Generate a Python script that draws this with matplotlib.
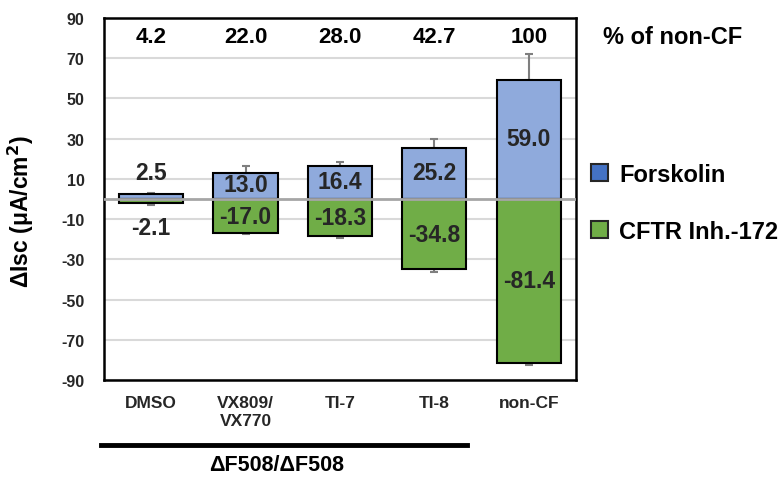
import matplotlib
matplotlib.use("Agg")
import matplotlib.pyplot as plt
from matplotlib.patches import Patch

plt.rcParams["font.family"] = ["Liberation Sans", "DejaVu Sans"]
plt.rcParams["font.weight"] = "bold"
plt.rcParams["mathtext.default"] = "bf"

# data
groups = ["DMSO", "VX809/\nVX770", "TI-7", "TI-8", "non-CF"]
forsk = [2.5, 13.0, 16.4, 25.2, 59.0]
forsk_err = [0.6, 3.5, 2.0, 4.6, 13.0]
inh = [-2.1, -17.0, -18.3, -34.8, -81.4]
inh_err = [0.9, 0.6, 1.2, 1.3, 1.1]
pct = ["4.2", "22.0", "28.0", "42.7", "100"]
yticks = [90, 70, 50, 30, 10, -10, -30, -50, -70, -90]

BLUE = "#8FAADC"; GREEN = "#70AD47"; TXT = "#262626"

fig = plt.figure(figsize=(7.79, 4.85), dpi=100)
ax = fig.add_axes([0.1335, 0.2144, 0.6059, 0.7464])
x = list(range(len(groups)))

for yv in yticks:
    ax.axhline(yv, color="#D9D9D9", lw=1.5, zorder=0)
ax.axhline(0, color="#A6A6A6", lw=2, zorder=3)

ax.errorbar(x, forsk, yerr=[[0]*5, forsk_err], fmt="none", ecolor="#7F7F7F", elinewidth=1.5, capsize=3, capthick=1.5, zorder=1)
ax.errorbar(x, inh, yerr=[inh_err, [0]*5], fmt="none", ecolor="#7F7F7F", elinewidth=1.5, capsize=3, capthick=1.5, zorder=1)
ax.bar(x, forsk, width=0.68, color=BLUE, edgecolor="black", lw=1.5, zorder=2)
ax.bar(x, inh, width=0.68, color=GREEN, edgecolor="black", lw=1.5, zorder=2)

for i in x:
    if i == 0:
        ax.text(i, forsk[i] + 10.5, f"{forsk[i]:.1f}", ha="center", va="center", fontsize=16.5, color=TXT)
        ax.text(i, inh[i] - 12, f"{inh[i]:.1f}", ha="center", va="center", fontsize=16.5, color=TXT)
    else:
        ax.text(i, forsk[i] / 2 + 0.5, f"{forsk[i]:.1f}", ha="center", va="center", fontsize=16.5, color=TXT, zorder=4)
        ax.text(i, inh[i] / 2, f"{inh[i]:.1f}", ha="center", va="center", fontsize=16.5, color=TXT, zorder=4)
    ax.text(i, 81, pct[i], ha="center", va="center", fontsize=16, color="black")

fig.text(0.864, 0.922, "% of non-CF", ha="center", va="center", fontsize=17)

ax.set_xlim(-0.5, 4.5)
ax.set_ylim(-90, 90)
ax.set_yticks(yticks)
ax.set_yticklabels([str(v) for v in yticks], fontsize=11.5, color=TXT)
ax.set_xticks(x)
ax.set_xticklabels(groups, fontsize=12.5, color=TXT, va="top")
ax.tick_params(length=0, pad=11, axis="x")
ax.tick_params(length=0, pad=14, axis="y")
for s in ax.spines.values():
    s.set_linewidth(1.8)
ax.set_ylabel("\u0394Isc (\u03bcA/cm$^{2}$)", fontsize=16.5, fontweight="bold")
ax.yaxis.set_label_coords(-0.145, 0.467)

# genotype bracket under the CF groups
fig.add_artist(plt.Line2D([101 / 779, 467 / 779], [1 - 446 / 485] * 2, color="black", lw=3.5))
fig.text(277 / 779, 1 - 466 / 485, "\u0394F508/\u0394F508", ha="center", va="center", fontsize=15.5)

handles = [Patch(facecolor="#4472C4", edgecolor="#262626", lw=1.5),
           Patch(facecolor=GREEN, edgecolor="#262626", lw=1.5)]
fig.legend(handles, ["Forskolin", "CFTR Inh.-172"], loc="center left", bbox_to_anchor=(0.731, 0.58),
           frameon=False, fontsize=17, handlelength=0.75, handleheight=0.7, handletextpad=0.45, labelspacing=1.45)

fig.savefig("out.png", dpi=100)
